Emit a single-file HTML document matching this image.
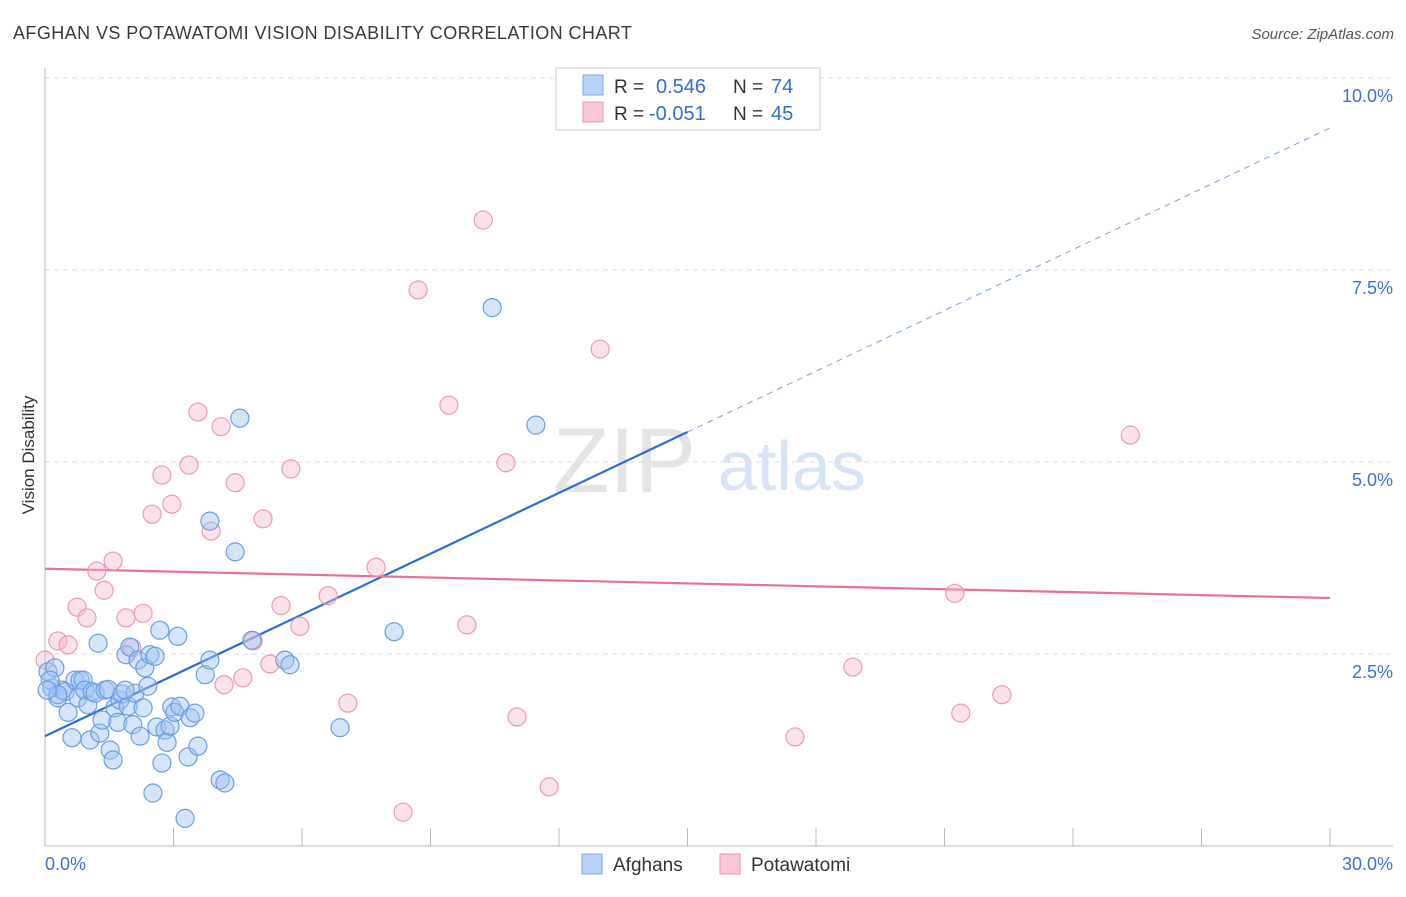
<!DOCTYPE html>
<html><head><meta charset="utf-8"><style>
body{margin:0;background:#fff;font-family:"Liberation Sans",sans-serif}
svg text{font-family:"Liberation Sans",sans-serif}
</style></head><body>
<svg id="chart" width="1406" height="892" xmlns="http://www.w3.org/2000/svg">
<text x="13" y="39" font-size="18" fill="#3a3a3a" letter-spacing="0.42">AFGHAN VS POTAWATOMI VISION DISABILITY CORRELATION CHART</text>
<text x="1394" y="39" font-size="15" fill="#555" text-anchor="end" font-style="italic">Source: ZipAtlas.com</text>
<text transform="translate(34,455) rotate(-90)" font-size="17" fill="#333" text-anchor="middle">Vision Disability</text>
<g>
<text x="553" y="492" font-size="92" font-family="Liberation Serif,serif" fill="#e4e4e4">ZIP</text>
<text x="718" y="490" font-size="70" fill="#d6e4f5">atlas</text>
</g>
<g id="grid"></g><g id="axes"></g><g id="lines"></g><g id="pts"></g>
<g>
<rect x="556" y="68" width="264" height="62" fill="#fff" stroke="#ccc"/>
<rect x="583" y="75" width="20" height="20" fill="#b7d2f5" stroke="#7aa8e6"/>
<text x="614" y="93" font-size="19" fill="#333">R =</text>
<text x="656" y="93" font-size="20" fill="#2f6fd6">0.546</text>
<text x="733" y="93" font-size="19" fill="#333">N =</text>
<text x="771" y="93" font-size="20" fill="#2f6fd6">74</text>
<rect x="583" y="102" width="20" height="20" fill="#f9c6d5" stroke="#eb93ae"/>
<text x="614" y="120" font-size="19" fill="#333">R =</text>
<text x="649" y="120" font-size="20" fill="#2f6fd6">-0.051</text>
<text x="733" y="120" font-size="19" fill="#333">N =</text>
<text x="771" y="120" font-size="20" fill="#2f6fd6">45</text>
</g>
<g>
<rect x="582" y="854" width="20" height="20" fill="#b7d2f5" stroke="#7aa8e6"/>
<text x="613" y="871" font-size="19" fill="#333">Afghans</text>
<rect x="720" y="854" width="20" height="20" fill="#f9c6d5" stroke="#eb93ae"/>
<text x="751" y="871" font-size="19" fill="#333">Potawatomi</text>
</g>
</svg>
<script>
const yTicks=[2.5,5.0,7.5,10.0];
const xTickVals=[0,3,6,9,12,15,18,21,24,27,30];
const blueX=[0.07,0.16,0.23,0.30,0.40,0.47,0.54,0.63,0.70,0.77,0.82,0.89,0.93,1.00,1.05,1.10,1.17,1.24,1.28,1.33,1.40,1.47,1.52,1.59,1.63,1.70,1.75,1.80,1.89,1.94,1.98,2.05,2.10,2.17,2.22,2.29,2.33,2.40,2.45,2.52,2.57,2.61,2.68,2.73,2.80,2.85,2.92,2.96,3.03,3.10,3.15,3.27,3.34,3.39,3.50,3.57,3.74,3.85,3.85,4.09,4.20,4.44,4.55,4.83,5.60,5.72,6.89,8.15,10.44,11.46,0.12,0.30,1.87,0.05];
const blueY=[2.27,2.06,2.32,1.93,2.03,2.01,1.74,1.41,2.16,1.93,2.16,2.16,2.03,1.84,1.38,2.01,1.99,2.64,1.47,1.64,2.03,2.04,1.25,1.12,1.80,1.61,1.90,1.98,2.49,1.82,2.59,1.58,1.99,2.42,1.43,1.80,2.32,2.08,2.49,0.69,2.47,1.55,2.81,1.08,1.51,1.35,1.56,1.81,1.74,2.73,1.82,0.36,1.16,1.67,1.73,1.30,2.23,2.42,4.23,0.86,0.82,3.83,5.57,2.68,2.42,2.36,1.54,2.79,7.01,5.48,2.16,1.97,2.03,2.03];
const pinkX=[0.0,0.30,0.54,0.75,0.98,1.21,1.38,1.59,1.89,2.03,2.29,2.50,2.73,2.96,3.36,3.57,3.88,4.11,4.18,4.44,4.62,4.86,5.09,5.25,5.51,5.74,5.95,6.61,7.07,7.73,8.36,8.71,9.43,9.85,10.23,10.76,11.02,11.77,12.96,17.51,18.86,21.24,21.38,22.34,25.34];
const pinkY=[2.42,2.67,2.62,3.11,2.97,3.58,3.33,3.71,2.97,2.58,3.03,4.32,4.83,4.45,4.96,5.65,4.10,5.46,2.10,4.73,2.19,2.67,4.26,2.37,3.13,4.91,2.86,3.26,1.86,3.63,0.44,7.24,5.74,2.88,8.15,4.99,1.68,0.77,6.47,1.42,2.33,3.29,1.73,1.97,5.35];
const blueTrend=[1.43,0.264];const blueSolidEnd=15;
const pinkTrend=[3.61,-0.0127];
const NS="http://www.w3.org/2000/svg";
const sx=v=>45+v/30*1285, sy=v=>846-v/2.5*192;
function mk(p,t,a){const e=document.createElementNS(NS,t);for(const k in a)e.setAttribute(k,a[k]);p.appendChild(e);return e;}
const grid=document.getElementById('grid'),axes=document.getElementById('axes'),lines=document.getElementById('lines'),pts=document.getElementById('pts');
yTicks.forEach(v=>{
 const l=mk(grid,'line',{x1:45,x2:1393,y1:sy(v),y2:sy(v),stroke:'#ddd','stroke-dasharray':'5,4'});
 
 
 const t=mk(grid,'text',{x:1393,y:sy(v)+24,'font-size':18,fill:'#3b72d4','text-anchor':'end'});t.textContent=v.toFixed(1)+'%';
 
 
});
const la=mk(axes,'line',{x1:45,x2:45,y1:68,y2:846,stroke:'#bbb'});


const ba=mk(axes,'line',{x1:45,x2:1393,y1:846,y2:846,stroke:'#bbb'});


xTickVals.forEach(v=>{const t=mk(axes,'line',{x1:sx(v),x2:sx(v),y1:828,y2:846,stroke:'#bbb'});
 
 });
[[0,'0.0%','start',45],[30,'30.0%','end',1393]].forEach(d=>{const t=mk(axes,'text',{x:d[3],y:870,'font-size':18,fill:'#3b72d4','text-anchor':d[2]});t.textContent=d[1];
 
 });
function dot(x,y,f,s,n){const c=mk(pts,'circle',{cx:sx(x),cy:sy(y),r:9,fill:f,stroke:s,'stroke-width':1.2});
 
 }
pinkX.forEach((x,i)=>dot(x,pinkY[i],'rgba(246,182,202,0.4)','#eb9ab3','potawatomi-point'));
blueX.forEach((x,i)=>dot(x,blueY[i],'rgba(160,196,242,0.45)','#6a9fe2','afghan-point'));
const bt=x=>blueTrend[0]+blueTrend[1]*x, pt=x=>pinkTrend[0]+pinkTrend[1]*x;
const l1=mk(lines,'line',{x1:sx(0),y1:sy(bt(0)),x2:sx(blueSolidEnd),y2:sy(bt(blueSolidEnd)),stroke:'#2a6fd6','stroke-width':2.2});


const l2=mk(lines,'line',{x1:sx(blueSolidEnd),y1:sy(bt(blueSolidEnd)),x2:sx(30),y2:sy(bt(30)),stroke:'#7aa3dd','stroke-width':1,'stroke-dasharray':'6,5'});


const l3=mk(lines,'line',{x1:sx(0),y1:sy(pt(0)),x2:sx(30),y2:sy(pt(30)),stroke:'#e8709a','stroke-width':2.2});


</script>
</body></html>
